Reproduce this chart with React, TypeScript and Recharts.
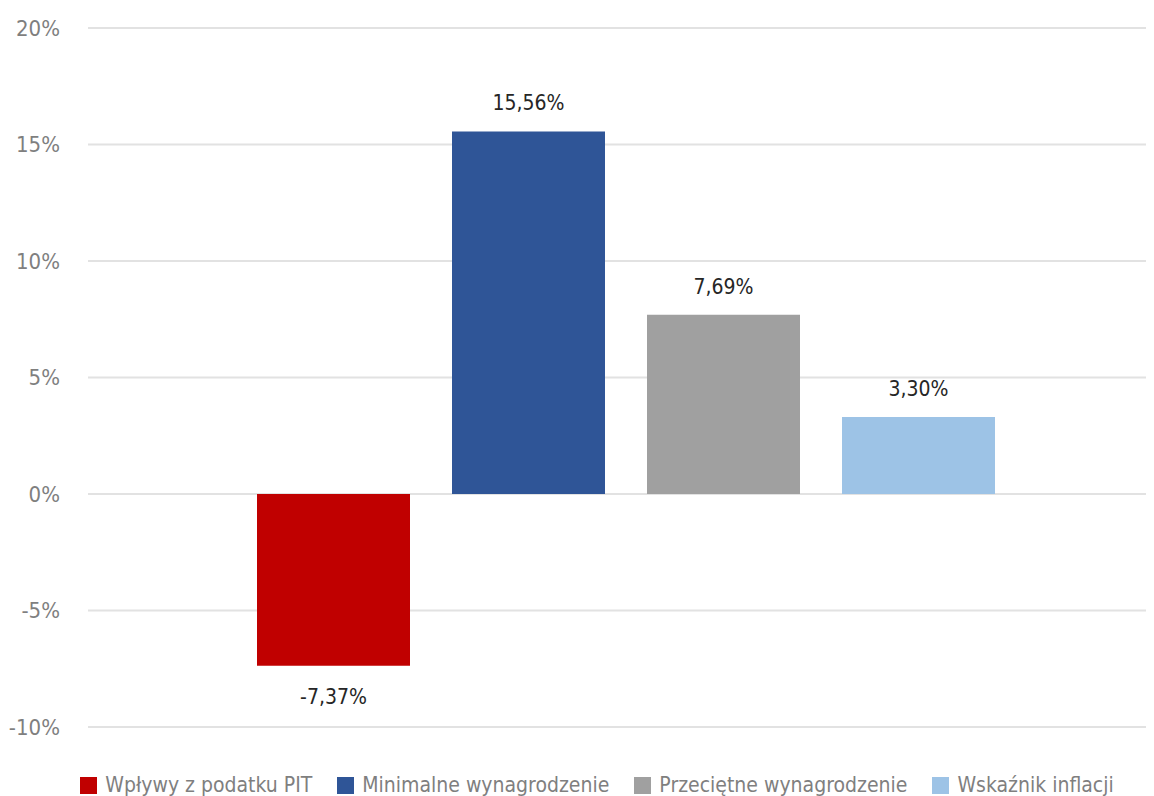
import React from "react";
import {
  BarChart,
  Bar,
  XAxis,
  YAxis,
  CartesianGrid,
  Legend,
  LabelList,
} from "recharts";

const CATEGORY = [""];
const SERIES_KEYS = ["pit", "min", "avg", "inf"];
const SERIES_NAMES = [
  "Wpływy z podatku PIT",
  "Minimalne wynagrodzenie",
  "Przeciętne wynagrodzenie",
  "Wskaźnik inflacji",
];
const SERIES_VALUES = [-7.37, 15.56, 7.69, 3.3];
const SERIES_COLORS = ["#C00000", "#2F5597", "#A0A0A0", "#9DC3E6"];
const Y_TICKS = [-10, -5, 0, 5, 10, 15, 20];

const FONT = '"Liberation Sans Narrow", "DejaVu Sans Condensed", "Roboto Condensed", Roboto, sans-serif';

const data = CATEGORY.map((name) => {
  const row: Record<string, string | number> = { name };
  SERIES_KEYS.forEach((k, i) => {
    row[k] = SERIES_VALUES[i];
  });
  return row;
});

function fmt(v: number) {
  return v.toFixed(2).replace(".", ",") + "%";
}

function ValueLabel(props: any) {
  const { x, y, width, height, value } = props;
  const top = Math.min(y, y + height);
  const bottom = Math.max(y, y + height);
  const ty = value >= 0 ? top - 28 : bottom + 31;
  return (
    <text
      x={x + width / 2}
      y={ty}
      textAnchor="middle"
      dominantBaseline="central"
      fill="#262626"
      fontSize={21}
      fontFamily={FONT}
    >
      {fmt(value)}
    </text>
  );
}

function LegendContent() {
  return (
    <div
      style={{
        display: "flex",
        justifyContent: "center",
        gap: 25,
        paddingTop: 46,
        paddingLeft: 30,
        fontFamily: FONT,
        fontSize: 21,
        color: "#7f7f7f",
        lineHeight: "24px",
        whiteSpace: "nowrap",
      }}
    >
      {SERIES_NAMES.map((n, i) => (
        <div key={n} style={{ display: "flex", alignItems: "center", gap: 8, flexShrink: 0 }}>
          <span
            style={{
              display: "inline-block",
              width: 17,
              height: 17,
              flexShrink: 0,
              background: SERIES_COLORS[i],
            }}
          />
          <span>{n}</span>
        </div>
      ))}
    </div>
  );
}

export default function App() {
  return (
    <div
      style={{
        width: 1154,
        height: 796,
        overflow: "hidden",
        marginLeft: -8,
        marginTop: -8,
        position: "relative",
        background: "#fff",
      }}
    >
      <BarChart
        width={1164}
        height={817}
        data={data}
        margin={{ top: 28, right: 0, left: 0, bottom: 0 }}
        barSize={153}
        barGap={42}
        style={{ overflow: "visible" }}
      >
        <CartesianGrid vertical={false} stroke="#e2e2e2" strokeWidth={2} />
        <XAxis dataKey="name" hide />
        <YAxis
          width={88}
          domain={[-10, 20]}
          ticks={Y_TICKS}
          interval={0}
          tickFormatter={(v) => `${v}%`}
          axisLine={false}
          tickLine={false}
          tickMargin={22}
          tick={{ fontSize: 22, fill: "#7f7f7f", fontFamily: FONT }}
        />
        <Legend
          verticalAlign="bottom"
          height={90}
          wrapperStyle={{ height: 90 }}
          content={() => <LegendContent />}
        />
        {SERIES_KEYS.map((k, i) => (
          <Bar
            key={k}
            dataKey={k}
            name={SERIES_NAMES[i]}
            fill={SERIES_COLORS[i]}
            isAnimationActive={false}
          >
            <LabelList dataKey={k} content={<ValueLabel />} />
          </Bar>
        ))}
      </BarChart>
    </div>
  );
}
